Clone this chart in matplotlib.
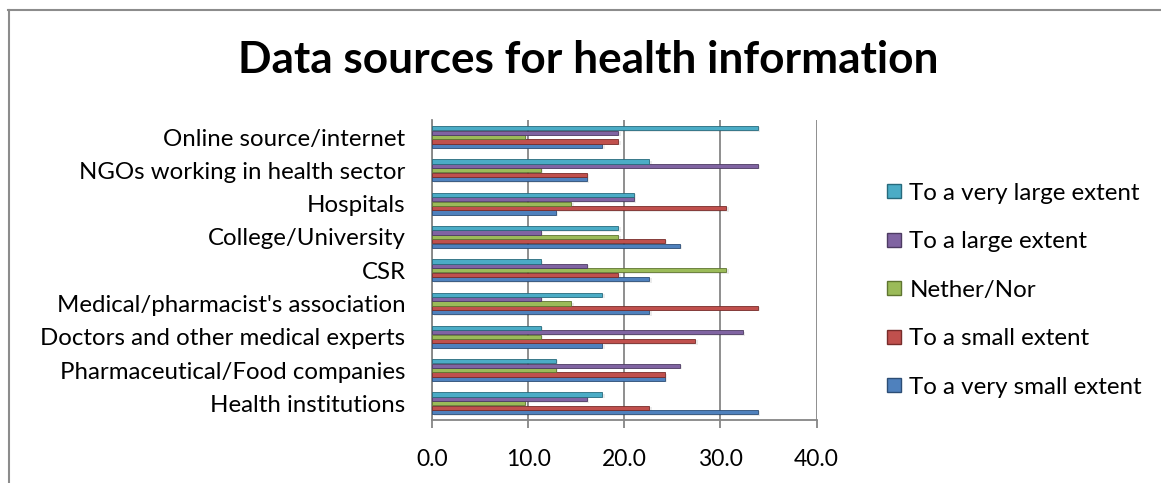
import numpy as np
import matplotlib.pyplot as plt
from matplotlib.lines import Line2D

plt.rcParams['font.family'] = ['Lato', 'DejaVu Sans']

categories = ["Health institutions", "Pharmaceutical/Food companies",
              "Doctors and other medical experts", "Medical/pharmacist's association",
              "CSR", "College/University", "Hospitals",
              "NGOs working in health sector", "Online source/internet"]
series_names = ["To a very small extent", "To a small extent", "Nether/Nor",
                "To a large extent", "To a very large extent"]
very_small = [33.9, 24.2, 17.7, 22.6, 22.6, 25.8, 12.9, 16.1, 17.7]
small = [22.6, 24.2, 27.4, 33.9, 19.4, 24.2, 30.6, 16.1, 19.4]
neither = [9.7, 12.9, 11.3, 14.5, 30.6, 19.4, 14.5, 11.3, 9.7]
large = [16.1, 25.8, 32.3, 11.3, 16.1, 11.3, 21.0, 33.9, 19.4]
very_large = [17.7, 12.9, 11.3, 17.7, 11.3, 19.4, 21.0, 22.6, 33.9]
x_ticks = [0, 10, 20, 30, 40]

series = [very_small, small, neither, large, very_large]
colors = ["#4F81BD", "#C0504D", "#9BBB59", "#8064A2", "#4BACC6"]
edges = ["#2C4D75", "#772C2A", "#5F7530", "#4D3B62", "#276A7C"]

fig = plt.figure(figsize=(11.61, 4.83), dpi=100)
ax = fig.add_axes([0.372, 0.1304, 0.3314, 0.6203])

y = np.arange(len(categories))
h = 0.132
for k, vals in enumerate(series):
    offs = y + (k - 2) * h
    # soft shadow under each bar
    ax.barh(offs - 0.04, vals, height=h, left=0.25, color="#000000", alpha=0.08,
            linewidth=0, zorder=2)
    ax.barh(offs, vals, height=h * 0.95, color=colors[k], edgecolor=edges[k],
            linewidth=0.6, zorder=3, label=series_names[k])

ax.set_xlim(0, 40)
ax.set_ylim(-0.5, len(categories) - 0.5)
ax.set_xticks(x_ticks)
ax.set_xticklabels([f"{t:.1f}" for t in x_ticks], fontsize=16.5)
ax.set_yticks(y)
ax.set_yticklabels(categories, fontsize=17.3)
ax.tick_params(axis='y', length=0, pad=19)
ax.tick_params(axis='x', length=6, width=1.3, color="#868686", direction='out', pad=15)
ax.grid(axis='x', color="#868686", linewidth=1.3, zorder=1)
for s in ['top', 'right']:
    ax.spines[s].set_visible(False)
for s in ['left', 'bottom']:
    ax.spines[s].set_color("#868686")
    ax.spines[s].set_linewidth(1.3)

fig.text(0.507, 0.876, "Data sources for health information", ha='center', va='center',
         fontsize=31.8, fontweight='bold')

handles = [Line2D([], [], marker='s', linestyle='none', markersize=9.5,
                  markerfacecolor=colors[k], markeredgecolor=edges[k])
           for k in range(4, -1, -1)]
labels = [series_names[k] for k in range(4, -1, -1)]
fig.legend(handles, labels, loc='center left', bbox_to_anchor=(0.752, 0.399),
           frameon=False, fontsize=17.4, labelspacing=1.14, handlelength=0.7,
           handletextpad=0.3, borderpad=0)

# chart border (top and left edges visible)
fig.add_artist(Line2D([8 / 1161, 1], [1 - 9.5 / 483] * 2, color="#8C8C8C", linewidth=1.5))
fig.add_artist(Line2D([8.5 / 1161] * 2, [0, 1 - 9.5 / 483], color="#8C8C8C", linewidth=1.5))

fig.savefig("out.png", dpi=100)
